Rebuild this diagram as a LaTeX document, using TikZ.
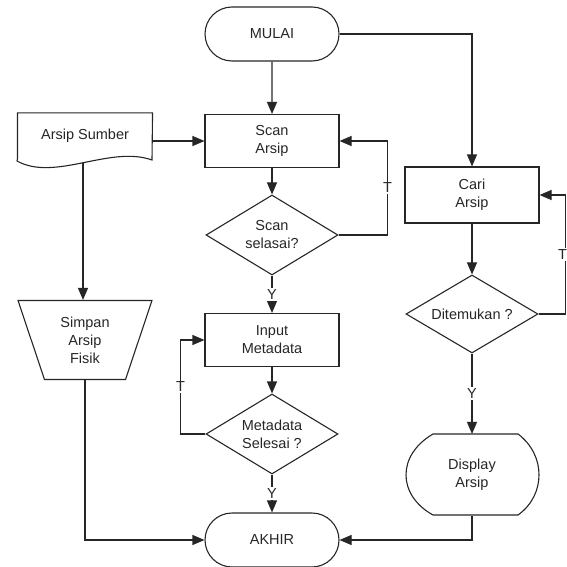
\documentclass[tikz,border=0pt]{standalone}
\usepackage{fontspec}
\setmainfont{Liberation Sans}
\usetikzlibrary{positioning, shapes.geometric, shapes.misc, arrows.meta}

\begin{document}
\begin{tikzpicture}[x=1pt, y=-1pt, line width=1.1pt, draw=black!85, text=black!85,
  font=\fontsize{14.5}{18}\selectfont,
  >={Triangle[length=12pt,width=10pt]},
  term/.style={rounded rectangle, draw, minimum width=134pt, minimum height=54pt, inner sep=0pt},
  proc/.style={rectangle, draw, minimum width=134pt, minimum height=53pt, inner sep=0pt, align=center},
  decide/.style={diamond, draw, aspect=1.65, minimum width=132pt, minimum height=80pt, inner sep=0pt, align=center},
  manual/.style={trapezium, draw, shape border rotate=180, trapezium angle=71,
    trapezium stretches=true, minimum width=134pt, minimum height=79pt, inner sep=0pt, align=center},
  blank/.style={rectangle, minimum width=134pt, minimum height=#1, inner sep=0pt, align=center},
  lbl/.style={fill=white, inner sep=1.5pt}]

\useasboundingbox (0,0) rectangle (567,567);

% middle column
\node[term] (mulai) at (272,34) {MULAI};
\node[proc] (scan) at (272,141) {Scan\\Arsip};
\node[decide] (cekscan) at (272,235) {Scan\\selasai?};
\node[proc] (input) at (272,340) {Input\\Metadata};
\node[decide] (cekmeta) at (272,434) {Metadata\\Selesai ?};
\node[term] (akhir) at (272,540) {AKHIR};

% left column
\node[blank=45pt] (sumber) at (85,136) {Arsip Sumber};
\draw (sumber.south west) -- (sumber.north west) -- (sumber.north east) -- (152,160)
  .. controls (110,145) and (55,182) .. coordinate[pos=0.5] (sumberwave) (17,161) -- cycle;
\node[manual] (simpan) at (85,340) {Simpan\\Arsip\\Fisik};

% right column
\node[proc, minimum height=56pt] (cari) at (472,195) {Cari\\Arsip};
\node[decide, minimum height=78pt] (temu) at (472,314) {Ditemukan ?};
\node[blank=81pt] (disp) at (472,475) {Display\\Arsip};
\draw (433,434) -- (518,434) .. controls (546,455) and (546,495) .. (518,515)
  -- (433,515) .. controls (397,495) and (397,455) .. (433,434) -- cycle;

\draw[->] (mulai) -- (scan);
\draw[->] (sumber.east |- scan.west) -- (scan.west);
\draw[->] (sumberwave) -- (sumberwave |- simpan.north);
\draw[->] (scan) -- (cekscan);
\draw[->] (cekscan.east) -- ++(49,0) |- node[pos=0.25, lbl] {T} (scan.east);
\draw[->] (cekscan) -- node[lbl] {Y} (input);
\draw[->] (input) -- (cekmeta);
\draw[->] (cekmeta.west) -- ++(-25,0) |- node[pos=0.25, lbl] {T} (input.west);
\draw[->] (cekmeta) -- node[lbl] {Y} (akhir);
\draw[->] (simpan.south) |- (akhir.west);
\draw[->] (mulai.east) -| (cari.north);
\draw[->] (cari) -- (temu);
\draw[->] (temu.east) -- ++(27,0) |- node[pos=0.25, lbl, xshift=-3pt] {T} (cari.east);
\draw[->] (temu) -- node[lbl] {Y} (disp.north);
\draw[->] (disp.south) |- (akhir.east);

\end{tikzpicture}
\end{document}
